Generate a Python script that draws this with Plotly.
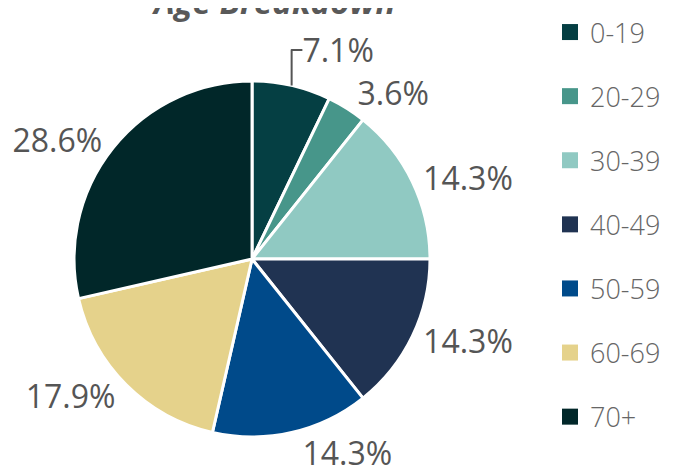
import plotly.graph_objects as go

labels = ["0-19", "20-29", "30-39", "40-49", "50-59", "60-69", "70+"]
counts = [2, 1, 4, 4, 4, 5, 8]
colors = ["#053f43", "#47968a", "#90c9c2", "#203352", "#004a8a", "#e5d28b", "#012729"]
title_text = "Age Breakdown"

fig = go.Figure()
fig.add_trace(go.Pie(
    labels=labels,
    values=counts,
    sort=False,
    direction="clockwise",
    rotation=0,
    marker=dict(colors=colors, line=dict(color="white", width=3)),
    texttemplate="%{percent:.1%}",
    textposition="outside",
    outsidetextfont=dict(family="Open Sans", size=32, color="#555555"),
    domain=dict(x=[0.0973, 0.6215], y=[0.0987, 0.8466]),
    showlegend=False,
    hoverinfo="label+value+percent",
))

# legend entries (one per age band) so that the spacing can follow the reference
for lab, col in zip(labels, colors):
    fig.add_trace(go.Scatter(
        x=[None], y=[None], mode="markers", name=lab, legendgroup=lab,
        marker=dict(symbol="square", size=16, color=col),
        showlegend=True, hoverinfo="skip",
    ))

fig.update_layout(
    width=679, height=476,
    margin=dict(l=0, r=0, t=0, b=0),
    paper_bgcolor="white",
    plot_bgcolor="white",
    xaxis=dict(visible=False),
    yaxis=dict(visible=False),
    legend=dict(
        x=542/679, y=1.0, xanchor="left", yanchor="top",
        font=dict(family="Open Sans", size=27, color="#666666", weight=300),
        tracegroupgap=26,
        itemwidth=30,
    ),
    annotations=[dict(
        text="<b><i>" + title_text + "</i></b>",
        x=265/679, xref="paper", xanchor="center",
        y=1 + 7/476, yref="paper", yanchor="middle",
        showarrow=False,
        font=dict(family="Open Sans", size=33, color="#595959"),
    )],
)

fig.write_html("out.html")
